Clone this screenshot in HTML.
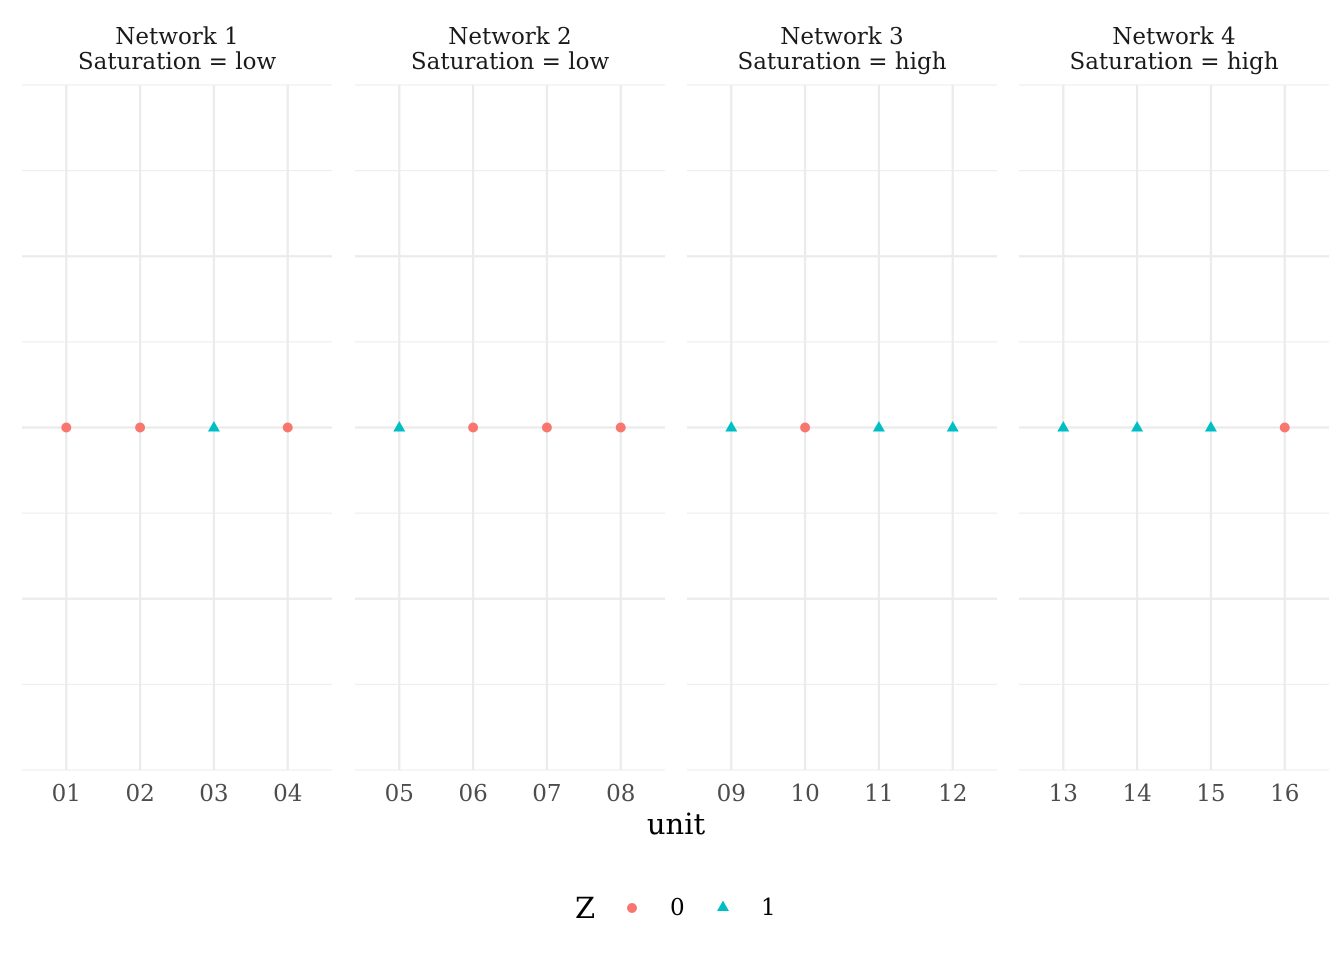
<!DOCTYPE html>
<html><head><meta charset="utf-8"><style>
body{margin:0;background:#fff;}
svg{display:block;font-family:"DejaVu Serif","Liberation Serif",serif;}
</style></head><body>
<svg id="chart" width="1344" height="960"></svg>
<script>
const units=["01","02","03","04","05","06","07","08","09","10","11","12","13","14","15","16"];
const zValues=[0,0,1,0,1,0,0,0,1,0,1,1,1,1,1,0];
const yValues=[0,0,0,0,0,0,0,0,0,0,0,0,0,0,0,0];
const networks=["Network 1","Network 2","Network 3","Network 4"];
const saturation=["low","low","high","high"];
const NS="http://www.w3.org/2000/svg";
const svg=document.getElementById('chart');
function mk(t,a,p){const e=document.createElementNS(NS,t);for(const k in a)e.setAttribute(k,a[k]);(p||svg).appendChild(e);return e;}
const panelX=[22,355,687,1019],pw=310,plotTop=85,plotBot=770;
function yScale(v){return 427.5-v*(plotBot-plotTop)/2;}
const colors=["#F8766D","#00BFC4"];
const FS='23px';
for(let p=0;p<4;p++){
 const g=mk('g',{});
 
 
 const x0=panelX[p];
 for(let i=0;i<9;i++){
  const y=plotTop+i*(plotBot-plotTop)/8;
  const major=(i%2==0)&&i>0&&i<8;
  const l=mk('line',{x1:x0,x2:x0+pw,y1:y,y2:y,stroke:'#ebebeb','stroke-width':major?2.2:1.1},g);
  
  
 }
 const xs=k=>x0+(k+0.6)*pw/4.2;
 for(let k=0;k<4;k++){
  const x=xs(k);
  const l=mk('line',{x1:x,x2:x,y1:plotTop,y2:plotBot,stroke:'#ebebeb','stroke-width':2.2},g);
  
  
  const t=mk('text',{x:x,y:801,'text-anchor':'middle','font-size':FS,fill:'#4d4d4d'},g);
  t.textContent=units[p*4+k];
  
  
 }
 const t1=mk('text',{x:x0+pw/2,y:44,'text-anchor':'middle','font-size':FS,fill:'#1a1a1a'},g);
 t1.textContent=networks[p];
 
 
 const t2=mk('text',{x:x0+pw/2,y:69,'text-anchor':'middle','font-size':FS,fill:'#1a1a1a'},g);
 t2.textContent='Saturation = '+saturation[p];
 
 
 for(let k=0;k<4;k++){
  const i=p*4+k,x=xs(k),y=yScale(yValues[i]),z=zValues[i];
  let m;
  if(z==0)m=mk('circle',{cx:x,cy:y,r:5,fill:colors[0]},g);
  else m=mk('polygon',{points:`${x},${y-6.5} ${x-6},${y+4} ${x+6},${y+4}`,fill:colors[1]},g);
  
  
 }
}
const xt=mk('text',{x:676,y:834,'text-anchor':'middle','font-size':'29px',fill:'#000'});
xt.textContent='unit';


const lg=mk('g',{});


const lz=mk('text',{x:575,y:918,'font-size':'29px',fill:'#000'},lg);
lz.textContent='Z';


const c=mk('circle',{cx:632,cy:908,r:5,fill:colors[0]},lg);


const l0=mk('text',{x:670,y:915,'font-size':FS,fill:'#000'},lg);
l0.textContent='0';


const tr=mk('polygon',{points:'723,900.5 717,911 729,911',fill:colors[1]},lg);


const l1=mk('text',{x:761,y:915,'font-size':FS,fill:'#000'},lg);
l1.textContent='1';


</script>
</body></html>
